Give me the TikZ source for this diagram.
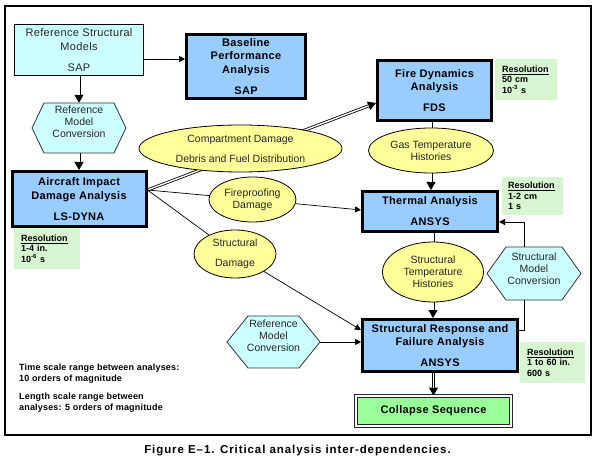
\documentclass[tikz,border=0pt]{standalone}
\usepackage{fontspec}
\setmainfont{Liberation Sans}
\newfontfamily\boxfnt[LetterSpace=3]{Liberation Sans}
\newfontfamily\capfnt[LetterSpace=8]{Liberation Sans}
\newfontfamily\smlfnt[LetterSpace=2]{Liberation Sans}
\usetikzlibrary{shapes.geometric,arrows.meta,calc,backgrounds}
\definecolor{boxblue}{HTML}{99CCFF}
\definecolor{cyanf}{HTML}{CCFFFF}
\definecolor{yell}{HTML}{FFFF99}
\definecolor{notegreen}{HTML}{D8F5D2}
\definecolor{collgreen}{HTML}{99FF99}
\newcommand\hexpath[5]{%
  \draw[hexsty] (#1-#3,#2) -- (#1-#3+#5,#2-#4) -- (#1+#3-#5,#2-#4) -- (#1+#3,#2)
    -- (#1+#3-#5,#2+#4) -- (#1-#3+#5,#2+#4) -- cycle;}
\begin{document}
\begin{tikzpicture}[x=1pt,y=-1pt,
  bluebox/.style={draw, line width=3pt, fill=boxblue, align=center, inner sep=0pt,
    font=\boxfnt\bfseries\fontsize{11}{13.5}\selectfont},
  cyanbox/.style={draw, line width=1pt, fill=cyanf, align=center, inner sep=0pt, text=black!85,
    font=\boxfnt\fontsize{11}{13.5}\selectfont},
  ell/.style={ellipse, draw, line width=0.8pt, fill=yell, align=center, inner sep=0pt, text=black!85,
    font=\fontsize{10.5}{12}\selectfont},
  hexsty/.style={draw=black!80, line width=0.8pt, fill=cyanf},
  hexanchor/.style={draw=none, inner sep=0pt},
  hextext/.style={align=center, inner sep=0pt, text=black!85, font=\fontsize{10.5}{12}\selectfont},
  note/.style={fill=notegreen, align=left, inner xsep=7pt, inner ysep=2pt,
    font=\bfseries\fontsize{9}{10.5}\selectfont},
  collbox/.style={draw=black!85, line width=1.3pt, double=white, double distance=1.8pt, fill=collgreen,
    inner sep=0pt, font=\boxfnt\bfseries\fontsize{11}{13.5}\selectfont},
  conn/.style={line width=0.7pt},
  arr/.style={line width=0.7pt, -{Triangle[length=6pt,width=6pt]}},
  dbl/.style={line width=0.8pt, double=white, double distance=1.4pt},
  dblarrow/.style={line width=0.8pt, -{Triangle[length=8pt,width=9pt]},
    postaction={draw, -, double=white, double distance=1.4pt, shorten >=8pt}},
]
\useasboundingbox (0,0) rectangle (597,465);

% hexagon outlines
\hexpath{79}{128}{47}{25}{12}
\hexpath{273.5}{342}{46.5}{26}{21}
\hexpath{534}{273.5}{47}{26.5}{19}
\node[hexanchor, minimum width=94pt, minimum height=50pt] (hex1) at (79,128) {};
\node[hexanchor, minimum width=93pt, minimum height=52pt] (hex2) at (273.5,342) {};
\node[hexanchor, minimum width=94pt, minimum height=53pt] (hex3) at (534,273.5) {};
\node[hextext] (hex1t) at (79,122) {Reference\\Model\\Conversion};
\node[hextext] (hex2t) at (273.5,336) {Reference\\Model\\Conversion};
\node[hextext] (hex3t) at (534,268.5) {Structural\\Model\\Conversion};

% boxes
\node[cyanbox, minimum width=129pt, minimum height=51pt] (refs) at (79,50) {Reference Structural\\Models\\[7.5pt]SAP};
\node[bluebox, minimum width=119pt, minimum height=64pt] (base) at (246,66.5) {Baseline\\Performance\\Analysis\\[7.5pt]SAP};
\node[bluebox, minimum width=134pt, minimum height=55pt] (air) at (79,199) {Aircraft Impact\\Damage Analysis\\[7.5pt]LS-DYNA};
\node[bluebox, minimum width=114pt, minimum height=60pt] (fds) at (434.5,90.5) {Fire Dynamics\\Analysis\\[7.5pt]FDS};
\node[bluebox, minimum width=135pt, minimum height=40pt] (thermal) at (430,211.5) {Thermal Analysis\\[7.5pt]ANSYS};
\node[bluebox, minimum width=155pt, minimum height=52pt] (sresp) at (440,345.5) {Structural Response and\\Failure Analysis\\[7.5pt]ANSYS};
\node[collbox, minimum width=154.5pt, minimum height=29.5pt] (coll) at (433.5,411) {Collapse Sequence};

% ellipses
\node[ell, minimum width=203pt, minimum height=47pt] (comp) at (240.5,148.5) {Compartment Damage\\[8pt]Debris and Fuel Distribution};
\node[ell, minimum width=87pt, minimum height=45pt] (fire) at (252.5,199.5) {Fireproofing\\Damage};
\node[ell, minimum width=82pt, minimum height=48pt] (sdam) at (235,254) {Structural\\[8pt]Damage};
\node[ell, minimum width=125pt, minimum height=45pt] (gas) at (431,150.5) {Gas Temperature\\Histories};
\node[ell, minimum width=101pt, minimum height=60pt] (stemp) at (433,272) {Structural\\Temperature\\Histories};

% resolution notes
\node[note, text width=52pt, minimum height=41pt, anchor=north west] (n1) at (14,228) {\underline{Resolution}\\1-4 in.\\10\textsuperscript{-6} s};
\node[note, text width=48pt, minimum height=41pt, anchor=north west] (n2) at (495,59) {\underline{Resolution}\\50 cm\\10\textsuperscript{-3} s};
\node[note, text width=49pt, inner xsep=6pt, minimum height=38pt, anchor=north west] (n3) at (502,177) {\underline{Resolution}\\1-2 cm\\1 s};
\node[note, text width=51pt, minimum height=41pt, anchor=north west] (n4) at (520,342) {\underline{Resolution}\\1 to 60 in.\\600 s};

% scale text and caption
\node[anchor=north west, align=left, inner sep=0pt, font=\smlfnt\bfseries\fontsize{9}{11}\selectfont] (scale) at (19,364)
  {Time scale range between analyses:\\10 orders of magnitude\\[7pt]Length scale range between\\analyses: 5 orders of magnitude};
\node[inner sep=0pt, font=\capfnt\bfseries\fontsize{11.5}{13}\selectfont] (cap) at (297.5,451) {Figure E–1. Critical analysis inter-dependencies.};

% connector end points
\coordinate (r1) at ($(refs.east)+(0,9)$);
\coordinate (airout) at ($(air.east)+(0,-9)$);
\coordinate (fdsin) at ($(fds.west)+(0,12.5)$);
\coordinate (thin) at ($(thermal.west)+(0,-1.5)$);
\coordinate (srin) at ($(sresp.west)+(0,-15.5)$);
\coordinate (h3top) at ($(hex3.north)+(-10,0)$);
\coordinate (thr) at ($(thermal.east)+(0,10.5)$);
\coordinate (h3bot) at ($(hex3.south)+(-10,0)$);
\coordinate (srr) at ($(sresp.east)+(0,-15.5)$);

\begin{pgfonlayer}{background}
\draw[line width=1.2pt] (5,6) rectangle (591,435);
\draw[arr] (r1) -- (r1 -| base.west);
\draw[dblarrow] (refs.south) -- (hex1.north);
\draw[dblarrow] (hex1.south) -- (air.north);
\draw[dblarrow] (airout) -- (fdsin);
\draw[conn] (airout) -- (fire);
\draw[arr] (fire) -- (thin);
\draw[conn] (airout) -- (sdam);
\draw[arr] (sdam) -- (srin);
\draw[dbl] (gas.north |- fds.south) -- (gas.north);
\draw[dblarrow] (gas.south) -- (gas.south |- thermal.north);
\draw[dbl] (stemp.north |- thermal.south) -- (stemp.north);
\draw[dblarrow] (stemp.south) -- (stemp.south |- sresp.north);
\draw[dblarrow] (coll.north |- sresp.south) -- (coll.north);
\draw[arr] (h3top) |- (thr);
\draw[conn] (h3bot) |- (srr);
\draw[arr] (hex2.east) -- (hex2.east -| sresp.west);
\end{pgfonlayer}
\end{tikzpicture}
\end{document}
